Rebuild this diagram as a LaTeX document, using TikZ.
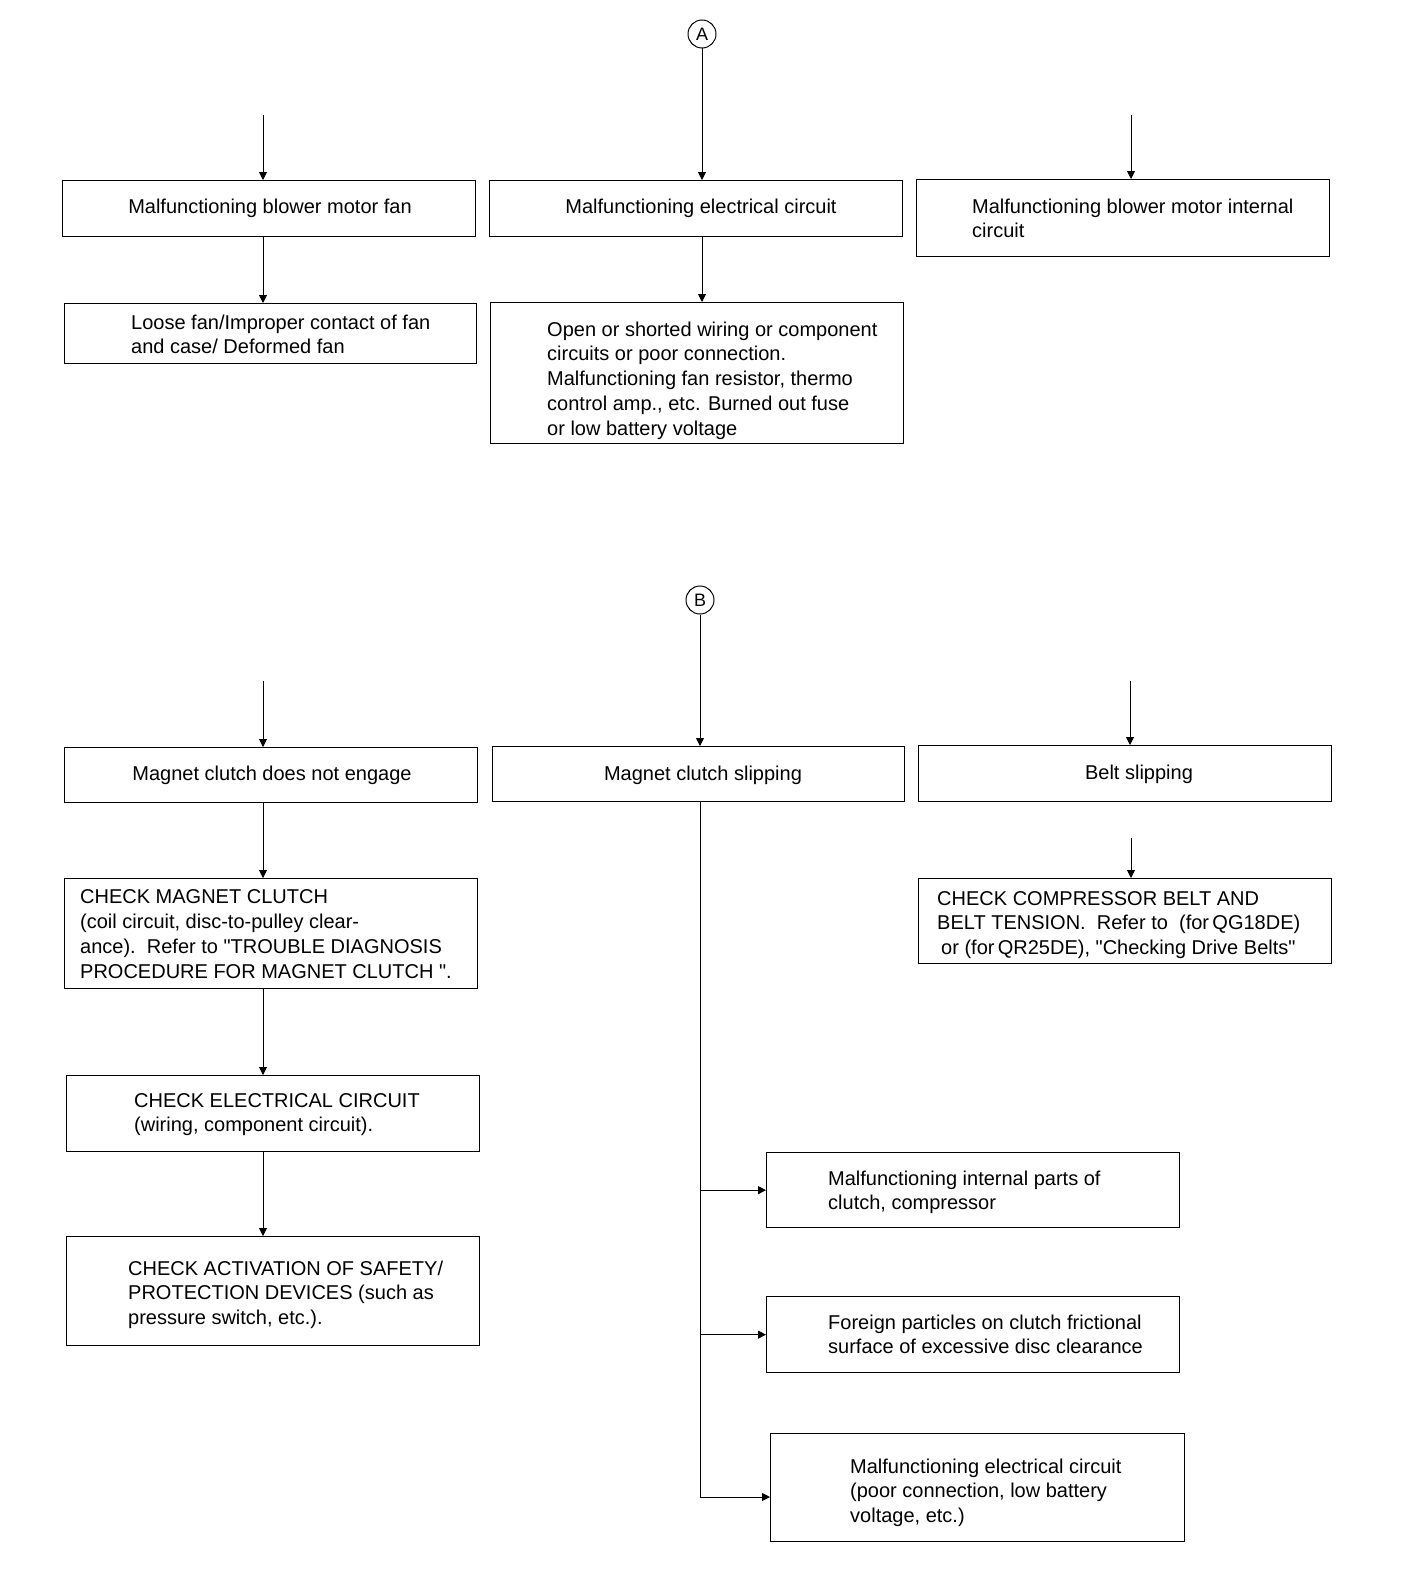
\documentclass[tikz,border=0pt]{standalone}
\usepackage{fontspec}
\setmainfont{Liberation Sans}[Ligatures=TeXOff]
\usetikzlibrary{arrows.meta}
\newcommand\mybox[5]{\node[box, minimum width=#4pt, minimum height=#5pt] (#1) at (#2,#3) {};}
\begin{document}
\begin{tikzpicture}[x=1pt,y=-1pt,
  box/.style={draw, line width=1.3pt, anchor=north west, inner sep=0pt},
  txt/.style={font=\fontsize{20}{24.75}\selectfont, inner sep=0pt, align=left},
  arr/.style={line width=0.9pt, -{Triangle[length=8pt,width=8pt]}},
  conn/.style={line width=0.9pt},
  circ/.style={draw, circle, line width=1pt, minimum size=28pt, inner sep=0pt, font=\fontsize{18}{18}\selectfont}]
\useasboundingbox (0,0) rectangle (1408,1592);
% ---------- part A ----------
\node[circ] (A) at (702,34) {A};
\mybox{b1}{62}{180}{413}{56}
\mybox{b2}{489}{180}{413}{56}
\mybox{b3}{916}{179}{413}{77}
\mybox{b4}{64}{303}{412}{60}
\mybox{b5}{490}{302}{413}{141}
\node[txt, anchor=base] (t1) at (270,213) {Malfunctioning blower motor fan};
\node[txt, anchor=base] (t2) at (701,213) {Malfunctioning electrical circuit};
\node[txt, anchor=base west] (t3) at (972,237.75) {Malfunctioning blower motor internal\\circuit};
\node[txt, anchor=base west] (t4) at (131,353.75) {Loose fan/Improper contact of fan\\and case/ Deformed fan};
\node[txt, anchor=base west] (t5) at (547,435) {Open or shorted wiring or component\\circuits or poor connection.\\Malfunctioning fan resistor, thermo\\control amp., etc. Burned out fuse\\or low battery voltage};
\coordinate (la) at (263,115);
\coordinate (ra) at (1131,115);
\draw[arr] (A) -- (A |- b2.north);
\draw[arr] (la) -- (la |- b1.north);
\draw[arr] (ra) -- (ra |- b3.north);
\draw[arr] (la |- b1.south) -- (la |- b4.north);
\draw[arr] (A |- b2.south) -- (A |- b5.north);
% ---------- part B ----------
\node[circ] (B) at (700,600) {B};
\mybox{b6}{64}{747}{413}{55}
\mybox{b7}{492}{746}{412}{55}
\mybox{b8}{918}{745}{413}{56}
\mybox{b9}{64}{878}{413}{110}
\mybox{b10}{918}{878}{413}{85}
\mybox{b11}{66}{1075}{413}{76}
\mybox{b12}{66}{1236}{413}{109}
\mybox{b13}{766}{1152}{413}{75}
\mybox{b14}{766}{1296}{413}{76}
\mybox{b15}{770}{1433}{414}{108}
\node[txt, anchor=base] (t6) at (272,780) {Magnet clutch does not engage};
\node[txt, anchor=base] (t7) at (703,780) {Magnet clutch slipping};
\node[txt, anchor=base] (t8) at (1139,779) {Belt slipping};
\node[txt, anchor=base west] (t9) at (80,978) {CHECK MAGNET CLUTCH\\(coil circuit, disc-to-pulley clear-\\ance).\ \ Refer to "TROUBLE DIAGNOSIS\\PROCEDURE FOR MAGNET CLUTCH ".};
\node[txt, anchor=base west] (t10) at (937,954.5) {CHECK COMPRESSOR BELT AND\\BELT TENSION.\ \ Refer to\ \ (for\,QG18DE)\\\hspace*{4pt}or (for\,QR25DE), "Checking Drive Belts"};
\node[txt, anchor=base west] (t11) at (134,1131.75) {CHECK ELECTRICAL CIRCUIT\\(wiring, component circuit).};
\node[txt, anchor=base west] (t12) at (128,1324.5) {CHECK ACTIVATION OF SAFETY/\\PROTECTION DEVICES (such as\\pressure switch, etc.).};
\node[txt, anchor=base west] (t13) at (828,1209.75) {Malfunctioning internal parts of\\clutch, compressor};
\node[txt, anchor=base west] (t14) at (828,1353.75) {Foreign particles on clutch frictional\\surface of excessive disc clearance};
\node[txt, anchor=base west] (t15) at (850,1522.5) {Malfunctioning electrical circuit\\(poor connection, low battery\\voltage, etc.)};
\coordinate (lb) at (263,681);
\coordinate (rb) at (1130,681);
\coordinate (rc) at (1131,838);
\coordinate (br3) at (700,1497);
\draw[arr] (lb) -- (lb |- b6.north);
\draw[arr] (rb) -- (rb |- b8.north);
\draw[arr] (B) -- (B |- b7.north);
\draw[arr] (lb |- b6.south) -- (lb |- b9.north);
\draw[arr] (rc) -- (rc |- b10.north);
\draw[arr] (lb |- b9.south) -- (lb |- b11.north);
\draw[arr] (lb |- b11.south) -- (lb |- b12.north);
\draw[conn] (B |- b7.south) -- (br3);
\draw[arr] (B |- b13.west) -- (b13.west);
\draw[arr] (B |- b14.west) -- (b14.west);
\draw[arr] (br3) -- (br3 -| b15.west);
\end{tikzpicture}
\end{document}
